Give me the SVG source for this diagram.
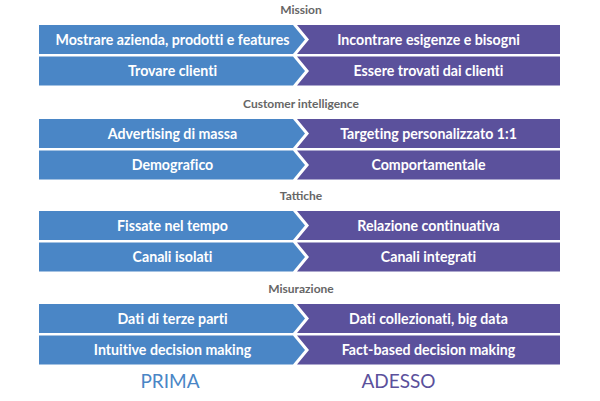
<svg xmlns="http://www.w3.org/2000/svg" width="600" height="401" viewBox="0 0 600 401">
<style>
.b{fill:#4a86c6}
.p{fill:#5b519c}
.t{font-family:Lato,"Liberation Sans",sans-serif;font-weight:bold;font-size:14.2px;fill:#fff;text-anchor:middle;font-variant-ligatures:none}
.h{font-family:Lato,"Liberation Sans",sans-serif;font-weight:bold;font-size:12px;fill:#666;text-anchor:middle}
.f{font-family:Lato,"Liberation Sans",sans-serif;font-size:19px;text-anchor:middle}
</style>
<rect width="600" height="401" fill="#fff"/>
<defs>
<polygon id="bl" points="39,0 293,0 305,14.5 293,29 39,29"/>
<polygon id="pr" points="297,0 560,0 560,29 297,29 309,14.5"/>
</defs>
<g id="mission">
<text class="h" x="301" y="14">Mission</text>
<g id="r1"><use href="#bl" class="b" y="25"/><use href="#pr" class="p" y="25"/>
<text class="t" x="172.5" y="44.5">Mostrare azienda, prodotti e features</text>
<text class="t" x="428.5" y="44.5">Incontrare esigenze e bisogni</text></g>
<g id="r2"><use href="#bl" class="b" y="56.5"/><use href="#pr" class="p" y="56.5"/>
<text class="t" x="172.5" y="76">Trovare clienti</text>
<text class="t" x="428.5" y="76">Essere trovati dai clienti</text></g>
</g>
<g id="customer">
<text class="h" x="301" y="108">Customer intelligence</text>
<g id="r3"><use href="#bl" class="b" y="119"/><use href="#pr" class="p" y="119"/>
<text class="t" x="172.5" y="138.5">Advertising di massa</text>
<text class="t" x="428.5" y="138.5">Targeting personalizzato 1:1</text></g>
<g id="r4"><use href="#bl" class="b" y="150.5"/><use href="#pr" class="p" y="150.5"/>
<text class="t" x="172.5" y="170">Demografico</text>
<text class="t" x="428.5" y="170">Comportamentale</text></g>
</g>
<g id="tattiche">
<text class="h" x="301" y="200">Tattiche</text>
<g id="r5"><use href="#bl" class="b" y="211"/><use href="#pr" class="p" y="211"/>
<text class="t" x="172.5" y="230.5">Fissate nel tempo</text>
<text class="t" x="428.5" y="230.5">Relazione continuativa</text></g>
<g id="r6"><use href="#bl" class="b" y="242.5"/><use href="#pr" class="p" y="242.5"/>
<text class="t" x="172.5" y="262">Canali isolati</text>
<text class="t" x="428.5" y="262">Canali integrati</text></g>
</g>
<g id="misurazione">
<text class="h" x="301" y="293">Misurazione</text>
<g id="r7"><use href="#bl" class="b" y="304"/><use href="#pr" class="p" y="304"/>
<text class="t" x="172.5" y="323.5">Dati di terze parti</text>
<text class="t" x="428.5" y="323.5">Dati collezionati, big data</text></g>
<g id="r8"><use href="#bl" class="b" y="335.5"/><use href="#pr" class="p" y="335.5"/>
<text class="t" x="172.5" y="355">Intuitive decision making</text>
<text class="t" x="428.5" y="355">Fact-based decision making</text></g>
</g>
<g id="footer">
<text class="f" x="170" y="387.5" fill="#4a86c6">PRIMA</text>
<text class="f" x="398.5" y="387.5" fill="#5b519c">ADESSO</text>
</g>
<g id="connectors"/>
</svg>
